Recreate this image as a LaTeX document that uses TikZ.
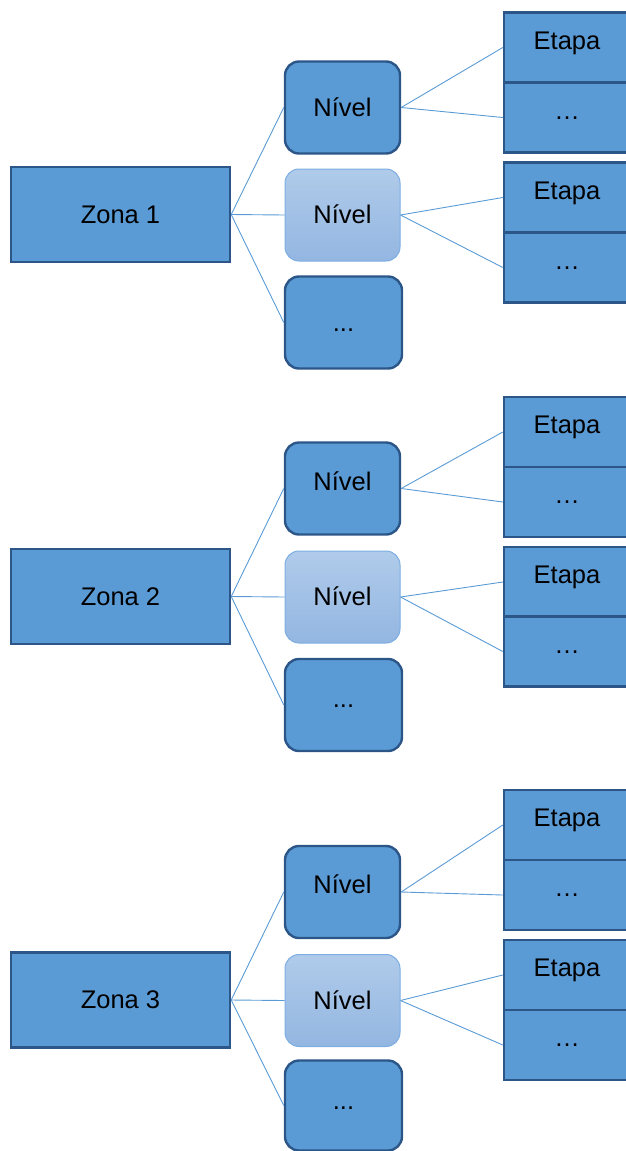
\documentclass[tikz,border=0pt]{standalone}
\usepackage{fontspec}
\setmainfont{Liberation Sans}
\definecolor{boxblue}{HTML}{5B9BD5}
\definecolor{edgeblue}{HTML}{2B5687}
\definecolor{lighttop}{HTML}{B0CBEA}
\definecolor{lightbot}{HTML}{93B6E1}
\definecolor{lightedge}{HTML}{7DAEE3}
\definecolor{linkblue}{HTML}{5B9BD5}
% stage text centred in the visible part of a cell that runs off the right edge
\newcommand{\celltext}[1]{\makebox[126pt]{#1}\hspace*{44pt}}
\begin{document}
\begin{tikzpicture}[x=1pt,y=-1pt,
  every node/.style={font=\fontsize{25.5}{30}\selectfont, text=black, inner sep=0pt,
    text height=18pt, text depth=1pt},
  zonebox/.style={rectangle, fill=boxblue, draw=edgeblue, line width=2.4pt,
    minimum width=219pt, minimum height=95pt},
  nivelbox/.style={rectangle, rounded corners=14pt, fill=boxblue, draw=edgeblue,
    line width=2.4pt, minimum width=115pt, minimum height=92pt},
  nivellight/.style={rectangle, rounded corners=14pt, top color=lighttop,
    bottom color=lightbot, draw=lightedge, line width=1pt,
    minimum width=115pt, minimum height=92pt},
  etapacell/.style={rectangle, fill=boxblue, draw=edgeblue, line width=2.4pt,
    minimum width=170pt, minimum height=70pt, text depth=15pt},
  link/.style={draw=linkblue, line width=0.9pt}]
\useasboundingbox (0,0) rectangle (625,1151);

% one tree per zone: zone, three levels, two stacks of stages
\foreach \g/\zy/\na/\nb/\nc/\nh/\ea/\eb/\ec/\ed/\ad/\cd in {
    1/214.5/107.5/215/322.5/92/47.5/117.5/197.5/267.5/1/1,
    2/596.5/488.5/597/705/92/432/502/582/651.5/15/13,
    3/1000/892/1000.5/1105.5/90/825/895/975/1045/15/11}{
  \node[zonebox] (z\g) at (120.5,\zy) {Zona \g};
  \node[nivelbox, text depth=\ad pt] (na\g) at (342.5,\na) {Nível};
  \node[nivellight] (nb\g) at (342.5,\nb) {Nível};
  \node[nivelbox, minimum width=117pt, minimum height=\nh pt,
        text depth=\cd pt] (nc\g) at (343.5,\nc) {...};
  \node[etapacell] (ea\g) at (589,\ea) {\celltext{Etapa}};
  \node[etapacell] (eb\g) at (589,\eb) {\celltext{…}};
  \node[etapacell] (ec\g) at (589,\ec) {\celltext{Etapa}};
  \node[etapacell] (ed\g) at (589,\ed) {\celltext{…}};
  \draw[link] (z\g.east) -- (na\g.west);
  \draw[link] (z\g.east) -- (nb\g.west);
  \draw[link] (z\g.east) -- (nc\g.west);
  \draw[link] (na\g.east) -- (ea\g.west);
  \draw[link] (na\g.east) -- (eb\g.west);
  \draw[link] (nb\g.east) -- (ec\g.west);
  \draw[link] (nb\g.east) -- (ed\g.west);
}
\end{tikzpicture}
\end{document}
